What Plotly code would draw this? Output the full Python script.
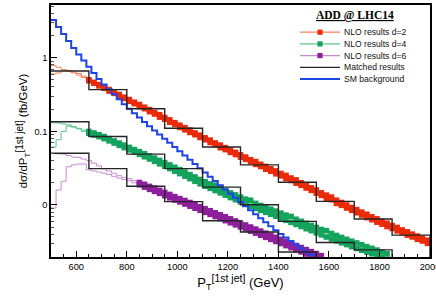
import plotly.graph_objects as go

# ---------------- data ----------------
pt_edges = list(range(500, 2001, 20))          # 20 GeV bins, 500-2000 GeV
matched_edges = list(range(500, 2001, 150))    # 150 GeV bins for matched results

# NLO d=2 : two NLO histograms (upper / lower)
d2_a = [0.780, 0.740, 0.690, 0.660, 0.620, 0.580, 0.540,
        0.500, 0.462, 0.430, 0.396, 0.370, 0.338, 0.316, 0.290, 0.270, 0.248,
        0.231, 0.212, 0.197, 0.180, 0.168, 0.154, 0.143, 0.131, 0.121, 0.112,
        0.104, 0.0950, 0.0885, 0.0815, 0.0760, 0.0695, 0.0650, 0.0600, 0.0560, 0.0518,
        0.0480, 0.0448, 0.0412, 0.0388, 0.0357, 0.0334, 0.0310, 0.0290, 0.0268, 0.0252,
        0.0232, 0.0219, 0.0200, 0.0187, 0.0171, 0.0160, 0.0146, 0.0136, 0.0128, 0.0116,
        0.0108, 0.0100, 0.00925, 0.00865, 0.00800, 0.00748, 0.00690, 0.00648, 0.00600, 0.00565,
        0.00525, 0.00495, 0.00458, 0.00432, 0.00402, 0.00378, 0.00354, 0.00332]
d2_b = [0.600, 0.620, 0.680, 0.670, 0.640, 0.610, 0.560,
        0.486, 0.450, 0.414, 0.384, 0.352, 0.328, 0.300, 0.279, 0.256, 0.238,
        0.217, 0.203, 0.185, 0.172, 0.156, 0.146, 0.133, 0.124, 0.113, 0.105,
        0.0965, 0.0900, 0.0825, 0.0770, 0.0705, 0.0658, 0.0600, 0.0565, 0.0518, 0.0485,
        0.0446, 0.0416, 0.0386, 0.0356, 0.0333, 0.0306, 0.0287, 0.0265, 0.0249, 0.0229,
        0.0215, 0.0198, 0.0185, 0.0170, 0.0158, 0.0145, 0.0135, 0.0123, 0.0118, 0.0105,
        0.0099, 0.00910, 0.00848, 0.00785, 0.00730, 0.00675, 0.00632, 0.00585, 0.00550, 0.00510,
        0.00480, 0.00446, 0.00420, 0.00390, 0.00368, 0.00342, 0.00325, 0.00302]

# NLO d=4
d4_a = [0.131, 0.130, 0.126, 0.122, 0.116, 0.110, 0.104,
        0.0997, 0.0950, 0.0900, 0.0850, 0.0795, 0.0740, 0.0692, 0.0648, 0.0605, 0.0566,
        0.0530, 0.0496, 0.0464, 0.0433, 0.0403, 0.0375, 0.0350, 0.0325, 0.0302, 0.0280,
        0.0259, 0.0240, 0.0222, 0.0207, 0.0193, 0.0186, 0.0169, 0.0157, 0.0146, 0.0137,
        0.0128, 0.0120, 0.0116, 0.0105, 0.00985, 0.00930, 0.00875, 0.00826, 0.00776, 0.00728,
        0.00700, 0.00641, 0.00600, 0.00563, 0.00528, 0.00495, 0.00465, 0.00448, 0.00410, 0.00386,
        0.00363, 0.00342, 0.00322, 0.00305, 0.00288, 0.00272, 0.00258, 0.00244, 0.00231, 0.00218]
d4_b = [0.061, 0.077, 0.100, 0.118, 0.114, 0.108, 0.100,
        0.0940, 0.0892, 0.0848, 0.0796, 0.0742, 0.0693, 0.0645, 0.0602, 0.0560, 0.0521,
        0.0486, 0.0452, 0.0421, 0.0391, 0.0362, 0.0336, 0.0312, 0.0288, 0.0267, 0.0246,
        0.0228, 0.0210, 0.0194, 0.0180, 0.0168, 0.0157, 0.0146, 0.0136, 0.0126, 0.0118,
        0.0110, 0.0103, 0.00963, 0.00898, 0.00845, 0.00795, 0.00748, 0.00704, 0.00661, 0.00620,
        0.00580, 0.00544, 0.00510, 0.00477, 0.00448, 0.00419, 0.00393, 0.00368, 0.00346, 0.00326,
        0.00307, 0.00290, 0.00272, 0.00257, 0.00243, 0.00230, 0.00218, 0.00206, 0.00195, 0.00184]

# NLO d=6
d6_a = [0.050, 0.050, 0.049, 0.047, 0.045, 0.044, 0.042, 0.040, 0.037, 0.034,
        0.031, 0.029, 0.027, 0.025, 0.0237,
        0.0228, 0.0214, 0.0202, 0.0191, 0.0179, 0.0169, 0.0158, 0.0148, 0.0139, 0.0130,
        0.0122, 0.0115, 0.0108, 0.0101, 0.00948, 0.00890, 0.00836, 0.00784, 0.00736, 0.00691,
        0.00648, 0.00608, 0.00570, 0.00535, 0.00502, 0.00471, 0.00442, 0.00414, 0.00389, 0.00364,
        0.00342, 0.00321, 0.00301, 0.00282, 0.00265, 0.00248, 0.00233, 0.00219, 0.00205]
d6_b = [0.0091, 0.016, 0.021, 0.033, 0.035, 0.036, 0.036, 0.030, 0.029, 0.028,
        0.027, 0.026, 0.0245, 0.0232, 0.0222,
        0.0214, 0.0200, 0.0188, 0.0175, 0.0163, 0.0153, 0.0144, 0.0134, 0.0125, 0.0117,
        0.0110, 0.0103, 0.00965, 0.00905, 0.00848, 0.00795, 0.00745, 0.00698, 0.00654, 0.00613,
        0.00574, 0.00538, 0.00504, 0.00473, 0.00442, 0.00415, 0.00388, 0.00364, 0.00341, 0.00320,
        0.00300, 0.00281, 0.00263, 0.00246, 0.00231, 0.00216, 0.00203, 0.00190, 0.00178]

# SM background
sm_bkg = [3.24, 2.60, 2.09, 1.68, 1.35, 1.10, 0.912, 0.750, 0.621, 0.513,
          0.433, 0.372, 0.318, 0.272, 0.233, 0.202, 0.176, 0.154, 0.134, 0.117,
          0.103, 0.0904, 0.0794, 0.0698, 0.0614, 0.0538, 0.0471, 0.0412, 0.0361, 0.0316,
          0.0276, 0.0242, 0.0211, 0.0185, 0.0162, 0.0142, 0.0125, 0.0110, 0.00964, 0.00847,
          0.00746, 0.00659, 0.00582, 0.00514, 0.00454, 0.00404, 0.00361, 0.00324, 0.00290, 0.00259,
          0.00233, 0.00211, 0.00191]

# Matched results (150 GeV bins)
matched_d2 = [0.66, 0.368, 0.203, 0.110, 0.0614, 0.035, 0.0204, 0.0112, 0.00645, 0.0039]
matched_d4 = [0.135, 0.085, 0.049, 0.0312, 0.0175, 0.0101, 0.0060, 0.0031, 0.00246]
matched_d6 = [0.0504, 0.0312, 0.018, 0.0111, 0.0061, 0.0043, 0.0023]

# y tick labels as printed on the original figure
y_tickvals = [0.01, 0.1, 1]
y_ticktext = ["0", "0.1", "1"]
x_tickvals = [600, 800, 1000, 1200, 1400, 1600, 1800, 2000]

# first bin index where NLO markers are drawn
marker_start = {"d2": 7, "d4": 7, "d6": 17}

# ---------------- helpers ----------------
def step_xy(edges, vals, drop=False):
    xs, ys = [], []
    for i, v in enumerate(vals):
        xs += [edges[i], edges[i + 1]]
        ys += [v, v]
    if drop:
        xs.append(edges[len(vals)])
        ys.append(1e-6)
    return xs, ys

centers = [(pt_edges[i] + pt_edges[i + 1]) / 2 for i in range(len(pt_edges) - 1)]

fig = go.Figure()

series = [
    ("d2", d2_a, d2_b, "#f7825f", "#ea2a08"),
    ("d4", d4_a, d4_b, "#5cc48c", "#14a35c"),
    ("d6", d6_a, d6_b, "#c98ad3", "#8e1f9c"),
]

for key, a, b, light, dark in series:
    for arr in (a, b):
        xs, ys = step_xy(pt_edges, arr)
        fig.add_trace(go.Scatter(x=xs, y=ys, mode="lines",
                                 line=dict(color=light, width=1), hoverinfo="skip"))
    k = marker_start[key]
    for arr in (a, b):
        n = len(arr)
        fig.add_trace(go.Scatter(x=centers[k:n], y=arr[k:], mode="markers",
                                 marker=dict(symbol="square", size=5.6, color=dark,
                                             line=dict(color=dark, width=0)),
                                 hoverinfo="skip"))

xs, ys = step_xy(pt_edges, sm_bkg)
fig.add_trace(go.Scatter(x=xs, y=ys, mode="lines",
                         line=dict(color="#1d44e6", width=2), hoverinfo="skip"))

for m in (matched_d2, matched_d4, matched_d6):
    xs, ys = step_xy(matched_edges, m, drop=True)
    fig.add_trace(go.Scatter(x=xs, y=ys, mode="lines",
                             line=dict(color="#262626", width=1.4), hoverinfo="skip"))

# ---------------- layout ----------------
font_family = "Liberation Sans, Arial, sans-serif"
minor_y = [m * 10 ** e for e in (-3, -2, -1, 0) for m in range(2, 10)]

fig.update_layout(
    width=436, height=308,
    margin=dict(l=51, r=6, t=5, b=51, autoexpand=False),
    plot_bgcolor="white", paper_bgcolor="white",
    showlegend=False,
    font=dict(family=font_family, color="black"),
    xaxis=dict(
        range=[500, 2000], tickvals=x_tickvals,
        ticks="inside", ticklen=6, tickwidth=1, tickcolor="black",
        showline=True, linecolor="black", linewidth=1.5, mirror=True,
        showgrid=False, zeroline=False, automargin=False,
        ticklabeloverflow="allow",
        tickfont=dict(size=9.3),
        minor=dict(ticks="inside", ticklen=3, dtick=50, tick0=500, tickcolor="black", showgrid=False),
        title=dict(text="P<sub>T</sub><sup><span style='font-size:10.5px'>[1st jet]</span></sup> (GeV)",
                   font=dict(size=13), standoff=7),
    ),
    yaxis=dict(
        type="log", range=[-2.706, 0.715],
        tickmode="array", tickvals=y_tickvals, ticktext=y_ticktext,
        ticks="inside", ticklen=6, tickwidth=1, tickcolor="black",
        showline=True, linecolor="black", linewidth=1.5, mirror=True,
        showgrid=False, zeroline=False, automargin=False,
        ticklabeloverflow="allow",
        tickfont=dict(size=9.3),
        minor=dict(ticks="inside", ticklen=3, tickvals=minor_y, tickcolor="#555", showgrid=False),
        title=dict(text="dσ/dP<sub>T</sub><sup><span style='font-size:10px'>[1st jet]</span></sup> (fb/GeV)",
                   font=dict(size=11.5), standoff=4),
    ),
)

# ---------------- manual legend ----------------
def px_x(px):
    return (px - 51) / 379.0

def px_y(py):
    return (257 - py) / 252.0

legend_rows = [
    ("NLO results d=2", "#f7825f", "#ea2a08", 1.2),
    ("NLO results d=4", "#5cc48c", "#14a35c", 1.2),
    ("NLO results d=6", "#c98ad3", "#8e1f9c", 1.2),
    ("Matched results", "#262626", None, 1.3),
    ("SM background", "#1d44e6", None, 2),
]
row_y0, row_dy = 32.2, 11.7
for i, (label, lc, mc, lw) in enumerate(legend_rows):
    py = row_y0 + i * row_dy
    fig.add_shape(type="line", xref="paper", yref="paper",
                  x0=px_x(300), x1=px_x(340), y0=px_y(py), y1=px_y(py),
                  line=dict(color=lc, width=lw))
    if mc:
        fig.add_shape(type="rect", xref="paper", yref="paper",
                      x0=px_x(317.4), x1=px_x(322.6), y0=px_y(py + 2.6), y1=px_y(py - 2.6),
                      fillcolor=mc, line=dict(color=mc, width=0))
    fig.add_annotation(xref="paper", yref="paper", x=px_x(342), y=px_y(py),
                       text=label, showarrow=False, xanchor="left", yanchor="middle",
                       font=dict(size=8.6, family=font_family, color="#111"))

fig.add_annotation(xref="paper", yref="paper", x=px_x(354.7), y=px_y(15.5),
                   text="<b><u>ADD @ LHC14</u></b>", showarrow=False,
                   xanchor="center", yanchor="middle",
                   font=dict(size=11.5, family="Liberation Serif, Times New Roman, serif", color="black"))

fig.write_html("out.html", config={"displayModeBar": False},
               post_script="document.body.style.margin='0';document.body.style.padding='0';")
